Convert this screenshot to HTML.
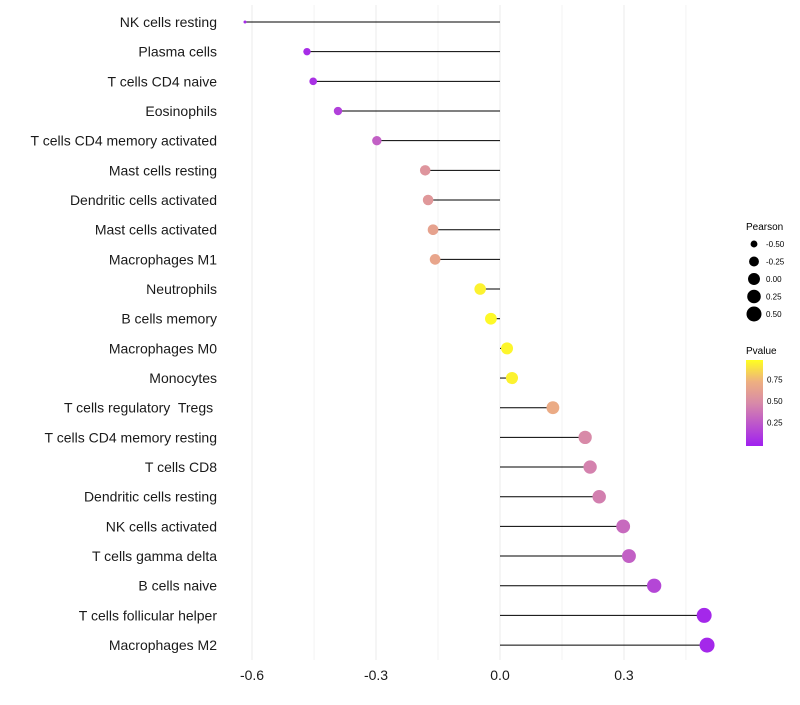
<!DOCTYPE html>
<html><head><meta charset="utf-8"><style>
body{margin:0;background:#fff;font-family:"Liberation Sans",sans-serif}
svg text{font-family:"Liberation Sans",sans-serif;white-space:pre}
</style></head><body>
<svg id="c" width="800" height="700">
<defs><linearGradient id="pg" x1="0" y1="1" x2="0" y2="0">
<stop offset="0" stop-color="#a020f0"/><stop offset="0.5" stop-color="#d88aa8"/><stop offset="0.75" stop-color="#eeb080"/><stop offset="1" stop-color="#ffff20"/></linearGradient></defs>
<g id="grid"></g><g id="marks"></g><g id="labels"></g><g id="legend"></g>
</svg>
<script>
const cells=["NK cells resting","Plasma cells","T cells CD4 naive","Eosinophils","T cells CD4 memory activated","Mast cells resting","Dendritic cells activated","Mast cells activated","Macrophages M1","Neutrophils","B cells memory","Macrophages M0","Monocytes","T cells regulatory  Tregs ","T cells CD4 memory resting","T cells CD8","Dendritic cells resting","NK cells activated","T cells gamma delta","B cells naive","T cells follicular helper","Macrophages M2"];
const pearson=[-0.617,-0.467,-0.452,-0.392,-0.298,-0.181,-0.174,-0.162,-0.157,-0.048,-0.022,0.017,0.029,0.128,0.206,0.218,0.240,0.298,0.312,0.373,0.494,0.501];
const pvalue=[0.05,0.06,0.08,0.15,0.3,0.57,0.59,0.66,0.68,0.96,0.98,0.97,0.96,0.72,0.5,0.46,0.45,0.35,0.3,0.18,0.04,0.04];
const xTicks=[-0.6,-0.3,0.0,0.3];
const sizeBreaks=[-0.5,-0.25,0,0.25,0.5];
const pTicks=[0.25,0.5,0.75];
const NS="http://www.w3.org/2000/svg";
const X=v=>500+v*413.3;
const Y=i=>22+i*29.67;
const R=v=>1.5+6*Math.sqrt(Math.max(0,(v+0.617)/1.118));
const stops=[[0,[160,32,240]],[0.5,[216,138,168]],[0.75,[238,176,128]],[1,[255,255,32]]];
function col(p){p=Math.max(0,Math.min(1,p));let i=0;while(i<stops.length-2&&p>stops[i+1][0])i++;const [p0,a]=stops[i],[p1,b]=stops[i+1];const t=(p-p0)/(p1-p0);return `rgb(${a.map((c,k)=>Math.round(c+(b[k]-c)*t)).join(",")})`;}
function mk(tag,at,parent){const e=document.createElementNS(NS,tag);for(const k in at)e.setAttribute(k,at[k]);parent.appendChild(e);return e;}
const grid=document.getElementById('grid'),marks=document.getElementById('marks'),labels=document.getElementById('labels'),leg=document.getElementById('legend');
for(let v=-0.75;v<=0.46;v+=0.15){const x=X(v);if(x<225)continue;const g=mk('line',{x1:x,x2:x,y1:5,y2:660,stroke:'#ebebeb','stroke-width':Math.abs((v/0.3)-Math.round(v/0.3))<0.01?1:0.6},grid);

}
xTicks.forEach(t=>{const e=mk('text',{x:X(t),y:680,'text-anchor':'middle','font-size':14,fill:'#1a1a1a'},labels);e.textContent=t.toFixed(1);

});
cells.forEach((c,i)=>{const y=Y(i);
const l=mk('line',{x1:X(0),x2:X(pearson[i]),y1:y,y2:y,stroke:'#000','stroke-width':1},marks);


const p=mk('circle',{cx:X(pearson[i]),cy:y,r:R(pearson[i]),fill:col(pvalue[i])},marks);


const t=mk('text',{x:217,y:y+5,'text-anchor':'end','font-size':14,fill:'#1a1a1a'},labels);t.textContent=c;

});
let e=mk('text',{x:746,y:230,'font-size':10},leg);e.textContent='Pearson';


sizeBreaks.forEach((s,i)=>{const y=244+i*17.5;
const c=mk('circle',{cx:754,cy:y,r:R(s),fill:'#000'},leg);


const t=mk('text',{x:766,y:y+3,'font-size':8},leg);t.textContent=s.toFixed(2);

});
e=mk('text',{x:746,y:354,'font-size':10},leg);e.textContent='Pvalue';


e=mk('rect',{x:746,y:360,width:17,height:86,fill:'url(#pg)'},leg);


pTicks.forEach(p=>{const y=444-p*86;
const t=mk('text',{x:767,y:y+3,'font-size':8},leg);t.textContent=p.toFixed(2);

});
</script>
</body></html>
